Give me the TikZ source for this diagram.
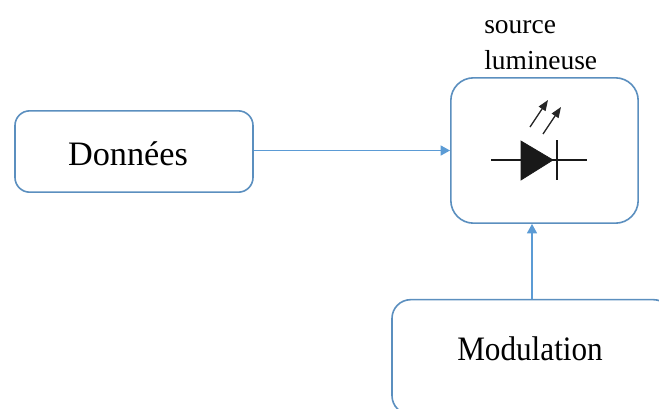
\documentclass[tikz,border=0pt]{standalone}
\usepackage{fontspec}
\setmainfont{Liberation Serif}
\usetikzlibrary{arrows.meta}
\definecolor{boxblue}{HTML}{5B8FBF}
\definecolor{arrowblue}{HTML}{5B9BD5}
\begin{document}
\begin{tikzpicture}[x=0.75pt,y=-0.75pt,
  bloc/.style ={draw=boxblue,line width=1.2pt,fill=white,rounded corners=14pt,inner sep=0pt},
  titre/.style ={anchor=base,inner sep=0pt,font=\fontsize{25.7}{30}\selectfont},
  lien/.style ={arrowblue,line width=0.9pt,-{Triangle[length=7pt,width=7.5pt]}},
  diode/.style ={black!90,line width=1.4pt},
  rayon/.style ={black!85,line width=1pt,-{Triangle[length=8pt,width=6pt]}}]
\useasboundingbox (0,0) rectangle (659,408);
\clip (0,0) rectangle (659,408);

\node[bloc,minimum width=178.5pt,minimum height=61pt,rounded corners=11pt] (D) at (134,151.5) {};
\node[bloc,minimum width=140.5pt,minimum height=109pt,rounded corners=17pt] (S) at (544.5,150.5) {};
\node[bloc,minimum width=210pt,minimum height=86pt] (M) at (532,357) {};
\node[titre] (Dt) at (128,165) {Données};
\node[titre] (Mt) at (530,360) {\scalebox{0.91}[1]{Modulation}};
\node[anchor=north west,inner sep=0pt,align=left,font=\fontsize{20.6}{27}\selectfont] (T) at (484,20) {source\\lumineuse};

\draw [lien] (D.east |- S.west) -- (S.west);
\draw [lien] (M.north) -- (M.north |- S.south);

%LED
\draw [diode] (491,160) -- (587,160);
\draw [diode,fill=black!90,line width=0.5pt] (521,141) -- (553,160) -- (521,180) -- cycle;
\draw [diode] (557,140) -- (557,180);
\draw [rayon] (530,127) -- (548,100);
\draw [rayon] (543,134) -- (561,107);
\end{tikzpicture}
\end{document}
